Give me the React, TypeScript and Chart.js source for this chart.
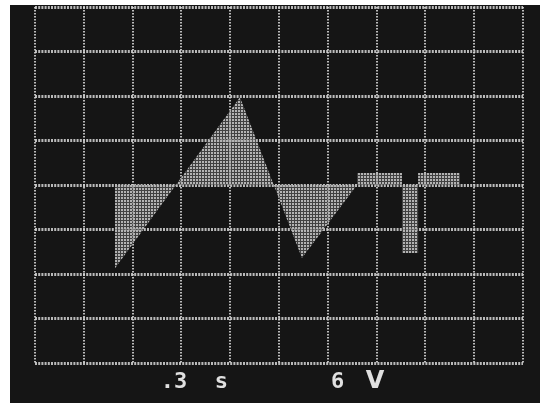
import React, { useEffect, useRef } from "react";
import { Chart, registerables } from "chart.js";

Chart.register(...registerables);

// Waveform vertices, in screen divisions (x: 0..10, y: -4..4)
const traceX = [1.64, 1.64, 4.2, 5.47, 6.6, 6.6, 7.52, 7.52, 7.85, 7.85, 8.71, 8.71];
const traceY = [0, -1.87, 1.97, -1.64, 0, 0.27, 0.27, -1.53, -1.53, 0.27, 0.27, 0];

// Readout labels (time/div and volts/div)
const readoutTexts = [".3", "s", "6", "V"];
const readoutDivX = [2.85, 3.82, 6.2, 6.97];

function makePattern(): CanvasPattern | string {
  const c = document.createElement("canvas");
  c.width = 3;
  c.height = 3;
  const g = c.getContext("2d");
  if (!g) return "rgba(150,150,150,0.8)";
  g.fillStyle = "rgba(95,95,95,0.6)";
  g.fillRect(0, 0, 3, 3);
  g.fillStyle = "rgba(185,185,185,0.95)";
  g.fillRect(0, 0, 2, 2);
  const p = g.createPattern(c, "repeat");
  return p || "rgba(150,150,150,0.8)";
}

const readoutPlugin = {
  id: "readout",
  afterDraw(chart: any) {
    const { ctx, scales, chartArea } = chart;
    ctx.save();
    ctx.fillStyle = "#e0e0e0";
    ctx.textAlign = "center";
    ctx.textBaseline = "alphabetic";
    readoutTexts.forEach((t, i) => {
      const x = scales.x.getPixelForValue(readoutDivX[i]);
      ctx.font = t === "V" ? "bold 24px 'DejaVu Sans'" : "bold 22px 'DejaVu Sans Mono'";
      ctx.fillText(t, x, chartArea.bottom + 25);
    });
    ctx.restore();
  },
};

export default function App() {
  const ref = useRef<HTMLCanvasElement | null>(null);
  useEffect(() => {
    if (!ref.current) return;
    const pattern = makePattern();
    const data = traceX.map((x, i) => ({ x, y: traceY[i] }));
    const gridColor = "rgba(215,215,215,0.85)";
    const chart = new Chart(ref.current, {
      type: "line",
      data: {
        datasets: [
          {
            data,
            fill: "origin",
            backgroundColor: pattern as any,
            borderWidth: 0,
            pointRadius: 0,
            tension: 0,
          },
        ],
      },
      options: {
        animation: false,
        responsive: true,
        maintainAspectRatio: false,
        layout: { padding: { left: 25, right: 17, top: 2, bottom: 40 } },
        plugins: { legend: { display: false }, tooltip: { enabled: false } },
        scales: {
          x: {
            type: "linear",
            min: 0,
            max: 10,
            ticks: { display: false, stepSize: 1 },
            grid: { color: gridColor, lineWidth: 2, drawTicks: false },
            border: { display: false, dash: [1.5, 1.5] },
          },
          y: {
            type: "linear",
            min: -4,
            max: 4,
            ticks: { display: false, stepSize: 1 },
            grid: { color: gridColor, lineWidth: 3, drawTicks: false },
            border: { display: false, dash: [2, 1.2] },
          },
        },
      },
      plugins: [readoutPlugin],
    });
    return () => chart.destroy();
  }, []);

  return (
    <div style={{ position: "fixed", left: 0, top: 0, width: 547, height: 403, background: "#ffffff" }}>
      <div style={{ position: "absolute", left: 10, top: 5, width: 530, height: 398, background: "#151515" }}>
        <canvas ref={ref} />
      </div>
    </div>
  );
}
